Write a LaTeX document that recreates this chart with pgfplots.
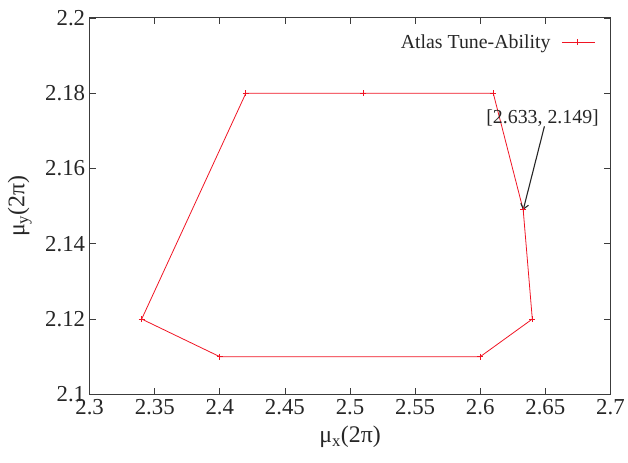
\documentclass[border=0pt]{standalone}
\usepackage{pgfplots}
\pgfplotsset{compat=1.18}
\usepackage{fontspec}
\setmainfont{Liberation Serif}
\usetikzlibrary{arrows.meta}
\definecolor{axgray}{RGB}{60,60,60}
\definecolor{tuned}{RGB}{240,20,35}
\begin{document}
\begin{tikzpicture}
\begin{axis}[
  width=523bp, height=378bp, scale only axis,
  xmin=2.3, xmax=2.7, ymin=2.1, ymax=2.2,
  xtick={2.3,2.35,...,2.71},
  ytick={2.1,2.12,...,2.21},
  xticklabels={2.3,2.35,2.4,2.45,2.5,2.55,2.6,2.65,2.7},
  yticklabels={2.1,2.12,2.14,2.16,2.18,2.2},
  tick align=inside,
  major tick length=6bp,
  axis line style={axgray, line width=0.9bp},
  tick style={axgray, line width=0.7bp},
  /pgf/number format/assume math mode=true,
  tick label style={font=\fontsize{23}{26}\selectfont, text=black!85},
  xticklabel style={yshift=-2bp},
  yticklabel style={xshift=-1bp},
  xlabel={μ\textsubscript{x}(2π)},
  ylabel={μ\textsubscript{y}(2π)},
  label style={font=\fontsize{24}{28}\selectfont, text=black!85},
  xlabel style={at={(axis description cs:0.5,-0.113)}, anchor=center},
  ylabel style={at={(axis description cs:-0.134,0.5)}, anchor=center},
  legend plot pos=right,
  legend style={draw=none, fill=none, at={(axis description cs:0.971,0.962)}, anchor=north east,
    font=\fontsize{20}{24}\selectfont, text=black!85, inner sep=0pt,
    /tikz/every odd column/.style={column sep=9bp}},
  legend image code/.code={\draw[mark repeat=2,mark phase=2,#1] plot coordinates {(0bp,0bp)(16bp,0bp)(33bp,0bp)};},
]
\addplot[color=tuned, line width=0.8bp, mark=+, mark size=3bp, mark options={draw=tuned, fill=tuned, line width=1bp}] coordinates {
  (2.42,2.18) (2.51,2.18) (2.61,2.18) (2.633,2.149) (2.64,2.12)
  (2.60,2.11) (2.40,2.11) (2.34,2.12) (2.42,2.18)
};
\addlegendentry{Atlas Tune-Ability}
\node[font=\fontsize{20}{24}\selectfont, text=black!85] at (axis cs:2.6479,2.1735) {[2.633, 2.149]};
\draw[black!85, line width=1.1bp, -{Straight Barb[length=5bp,width=8bp]}] (axis cs:2.6493,2.1712) -- (axis cs:2.633,2.149);
\end{axis}
\path (current axis.south west) ++(-90bp,-68bp) coordinate (bbA);
\path (current axis.north east) ++(15bp,18bp) coordinate (bbB);
\path (bbA) rectangle (bbB);
\end{tikzpicture}
\end{document}
